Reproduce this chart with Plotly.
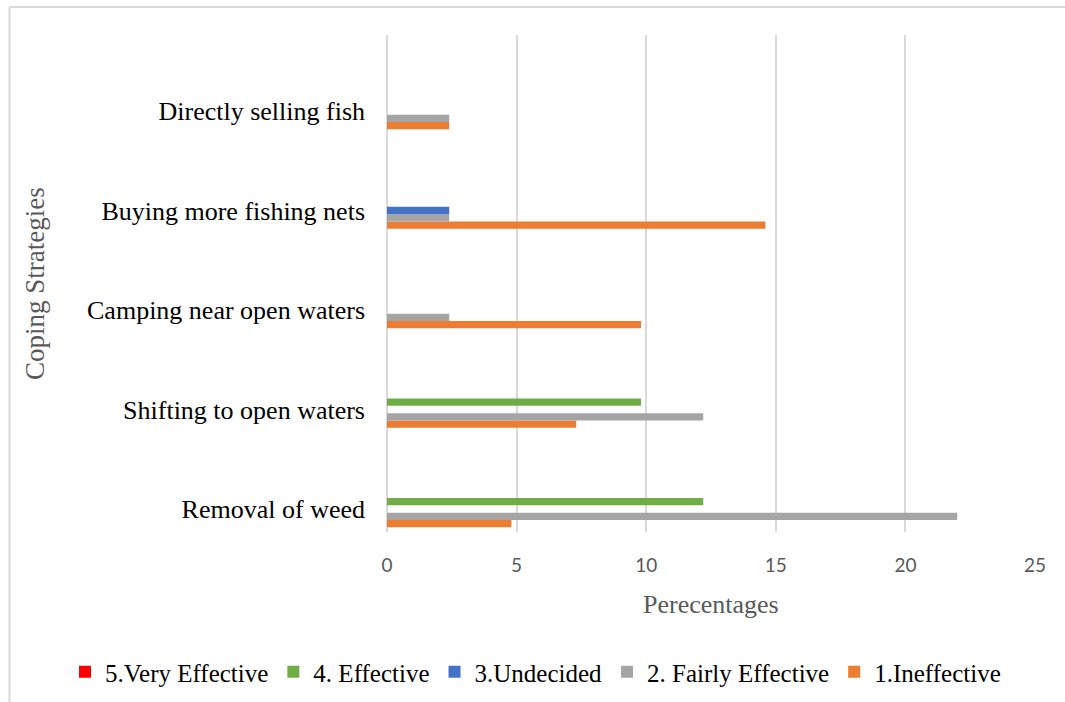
import plotly.graph_objects as go

categories = ["Removal of weed", "Shifting to open waters", "Camping near open waters",
              "Buying more fishing nets", "Directly selling fish"]
series_names = ["1.Ineffective", "2. Fairly Effective", "3.Undecided", "4. Effective", "5.Very Effective"]
ineffective = [4.8, 7.3, 9.8, 14.6, 2.4]
fairly_effective = [22.0, 12.2, 2.4, 2.4, 2.4]
undecided = [0, 0, 0, 2.4, 0]
effective = [12.2, 9.8, 0, 0, 0]
very_effective = [0, 0, 0, 0, 0]
x_ticks = [0, 5, 10, 15, 20, 25]

colors = ["#ED7D31", "#A5A5A5", "#4472C4", "#70AD47", "#FF0000"]
values = [ineffective, fairly_effective, undecided, effective, very_effective]

W, H = 1065, 702
L, R, T, B = 387, 1035, 35, 532
pw, ph = R - L, B - T

def px_x(p):
    return (p - L) / pw

def px_y(p):
    return (B - p) / ph

fig = go.Figure()
for name, vals, col in zip(series_names, values, colors):
    fig.add_trace(go.Bar(
        y=categories, x=vals, name=name, orientation="h",
        marker=dict(color=col, line=dict(width=0)),
    ))

# group centers: Directly at px ~111, Removal at px ~509
c_top, c_bot = 111.0, 509.0
cat_px = (c_bot - c_top) / 4
y_lo = -(B - c_bot) / cat_px
y_hi = 4 + (c_top - T) / cat_px

fig.update_layout(
    width=W, height=H,
    margin=dict(l=L, r=W - R, t=T, b=H - B, pad=0, autoexpand=False),
    paper_bgcolor="white", plot_bgcolor="white",
    barmode="group", bargap=0.633, bargroupgap=0,
    showlegend=True,
    legend=dict(
        orientation="h", traceorder="reversed",
        x=px_x(65), xanchor="left", y=px_y(672), yanchor="middle",
        font=dict(family="Liberation Serif", size=25, color="#000000"),
        itemwidth=30, bgcolor="rgba(0,0,0,0)",
    ),
    xaxis=dict(
        range=[0, 25], tickvals=x_ticks, showgrid=True, automargin=False,
        gridcolor="#D9D9D9", gridwidth=2, zeroline=False, showline=False,
        tickfont=dict(family="Lato", size=19, color="#595959"),
        ticks="", ticklabelstandoff=20,
    ),
    yaxis=dict(
        type="category", range=[y_lo, y_hi], showgrid=False, automargin=False,
        zeroline=False, showline=False,
        tickfont=dict(family="Liberation Serif", size=26, color="#000000"),
        ticks="", ticklabelstandoff=21,
    ),
    annotations=[
        dict(text="Perecentages", x=px_x(711), y=px_y(604), xref="paper", yref="paper",
             showarrow=False, xanchor="center", yanchor="middle",
             font=dict(family="Liberation Serif", size=26, color="#595959")),
        dict(text="Coping Strategies", x=px_x(35), y=px_y(284), xref="paper", yref="paper",
             showarrow=False, xanchor="center", yanchor="middle", textangle=-90,
             font=dict(family="Liberation Serif", size=27, color="#595959")),
    ],
    shapes=[
        dict(type="line", xref="paper", yref="paper", x0=0, x1=0, y0=0, y1=1,
             line=dict(color="#D9D9D9", width=2), layer="below"),
        dict(type="line", xref="paper", yref="paper",
             x0=px_x(9.5), x1=px_x(1070), y0=px_y(7), y1=px_y(7),
             line=dict(color="#D9D9D9", width=2)),
        dict(type="line", xref="paper", yref="paper",
             x0=px_x(9.5), x1=px_x(9.5), y0=px_y(7), y1=px_y(710),
             line=dict(color="#D9D9D9", width=2)),
    ],
)

fig.write_html("out.html", config={"displayModeBar": False},
               post_script="document.body.style.margin='0';")
